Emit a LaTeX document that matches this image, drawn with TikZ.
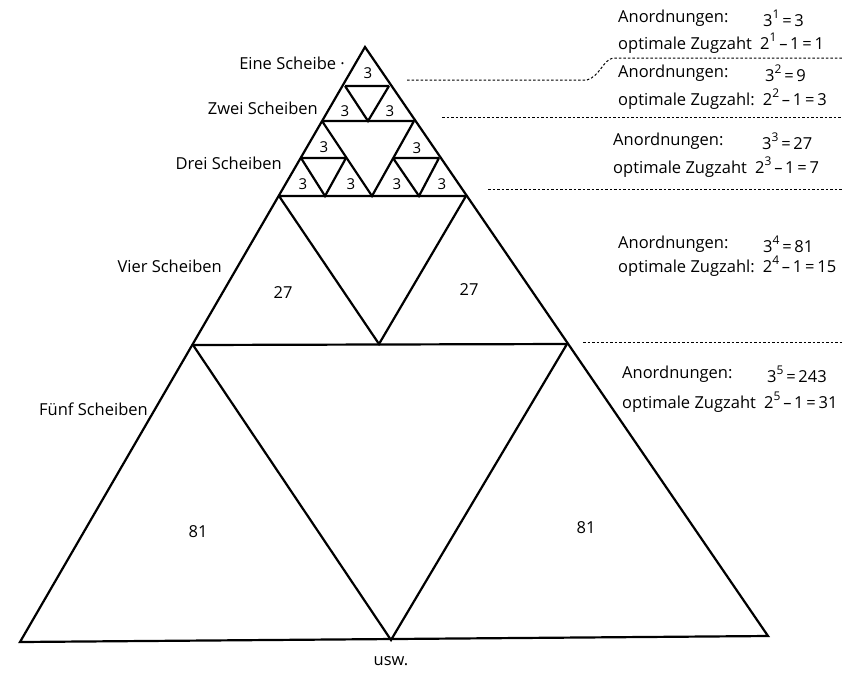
\documentclass[tikz,border=0pt]{standalone}
\usepackage{fontspec}
\setmainfont{Open Sans}
\newcommand{\pw}[1]{\raisebox{0.5em}{\fontsize{12}{14}\selectfont #1}}
\begin{document}
\begin{tikzpicture}[x=1pt,y=-1pt,
  edge/.style={line width=2.2pt,line join=miter},
  guide/.style={line width=1pt,dash pattern=on 2.5pt off 2pt},
  num/.style={font=\fontsize{15}{17}\selectfont,inner sep=0pt},
  big/.style={font=\fontsize{16.5}{19}\selectfont,inner sep=0pt},
  lbl/.style={font=\fontsize{16.5}{19}\selectfont,inner sep=0pt},
  info/.style={font=\fontsize{16.5}{19}\selectfont,inner sep=0pt,anchor=west}]
\useasboundingbox (0,0) rectangle (859,673);

% corner points of the big triangle and its subdivisions
\coordinate (A) at (365,47);
\coordinate (B) at (20,642);
\coordinate (C) at (768,636);
\coordinate (D) at (391,640);
\coordinate (E) at (193,345);
\coordinate (F) at (567,344);
\coordinate (G) at (279,196);
\coordinate (H) at (466,196);
\coordinate (I) at (379,344);
\coordinate (J) at (322,121);
\coordinate (K) at (414,121);
\coordinate (L) at (372,196);
\coordinate (M) at (345,86);
\coordinate (N) at (389,86);
\coordinate (O) at (368,121);
\coordinate (P) at (301,158);
\coordinate (Q) at (346,158);
\coordinate (R) at (325,196);
\coordinate (S) at (393,158);
\coordinate (T) at (439,158);
\coordinate (U) at (419,196);

\draw[edge] (A) -- (B) -- (C) -- cycle;
\draw[edge] (E) -- (F) (E) -- (D) -- (F);
\draw[edge] (G) -- (H) (G) -- (I) -- (H);
\draw[edge] (J) -- (K) (J) -- (L) -- (K);
\draw[edge] (M) -- (N) (M) -- (O) -- (N);
\draw[edge] (P) -- (Q) (P) -- (R) -- (Q);
\draw[edge] (S) -- (T) (S) -- (U) -- (T);

% counts inside the triangles
\node[num] (n1) at (368,73) {3};
\node[num] (n2) at (345,111) {3};
\node[num] (n3) at (390,111) {3};
\node[num] (n4) at (324,147) {3};
\node[num] (n5) at (303,184) {3};
\node[num] (n6) at (351,184) {3};
\node[num] (n7) at (417,148) {3};
\node[num] (n8) at (397,184) {3};
\node[num] (n9) at (442,184) {3};
\node[big] (t1) at (283,293) {27};
\node[big] (t2) at (469,290) {27};
\node[big] (e1) at (198,532) {81};
\node[big] (e2) at (586,528) {81};

% number of discs
\node[lbl,anchor=east] (s1) at (345,63) {Eine Scheibe ·};
\node[lbl,anchor=east] (s2) at (318,108) {Zwei Scheiben};
\node[lbl,anchor=east] (s3) at (282,163) {Drei Scheiben};
\node[lbl,anchor=east] (s4) at (222,266) {Vier Scheiben};
\node[lbl,anchor=east] (s5) at (148,409) {Fünf Scheiben};
\node[lbl] (usw) at (391,661) {usw.};

% arrangements and optimal move counts
\node[info] (a1) at (618,18) {Anordnungen:};
\node[info] (p1) at (763,18) {3\pw{1}\,=\,3};
\node[info] (z1) at (618,43) {optimale Zugzaht\enspace 2\pw{1}\,–\,1\,=\,1};
\node[info] (a2) at (618,73) {Anordnungen:};
\node[info] (p2) at (765,73) {3\pw{2}\,=\,9};
\node[info] (z2) at (618,99) {optimale Zugzahl:\enspace 2\pw{2}\,–\,1\,=\,3};
\node[info] (a3) at (613,141) {Anordnungen:};
\node[info] (p3) at (762,141) {3\pw{3}\,=\,27};
\node[info] (z3) at (613,167) {optimale Zugzaht\enspace 2\pw{3}\,–\,1\,=\,7};
\node[info] (a4) at (618,244) {Anordnungen:};
\node[info] (p4) at (763,244) {3\pw{4}\,=\,81};
\node[info] (z4) at (618,266) {optimale Zugzahl:\enspace 2\pw{4}\,–\,1\,=\,15};
\node[info] (a5) at (622,374) {Anordnungen:};
\node[info] (p5) at (767,374) {3\pw{5}\,=\,243};
\node[info] (z5) at (622,402) {optimale Zugzaht\enspace 2\pw{5}\,–\,1\,=\,31};

% dotted separators between the levels
\coordinate (d1a) at (407,80);
\coordinate (d1b) at (587,80);
\coordinate (d1c) at (613,58);
\coordinate (d1d) at (842,58);
\draw[guide] (d1a) -- (d1b) .. controls (600,76) and (603,60) .. (d1c) -- (d1d);
\coordinate (d2a) at (442,117);
\coordinate (d2b) at (842,117);
\draw[guide] (d2a) -- (d2b);
\coordinate (d3a) at (488,189);
\coordinate (d3b) at (842,189);
\draw[guide] (d3a) -- (d3b);
\coordinate (d4a) at (583,342);
\coordinate (d4b) at (842,342);
\draw[guide] (d4a) -- (d4b);
\end{tikzpicture}
\end{document}
